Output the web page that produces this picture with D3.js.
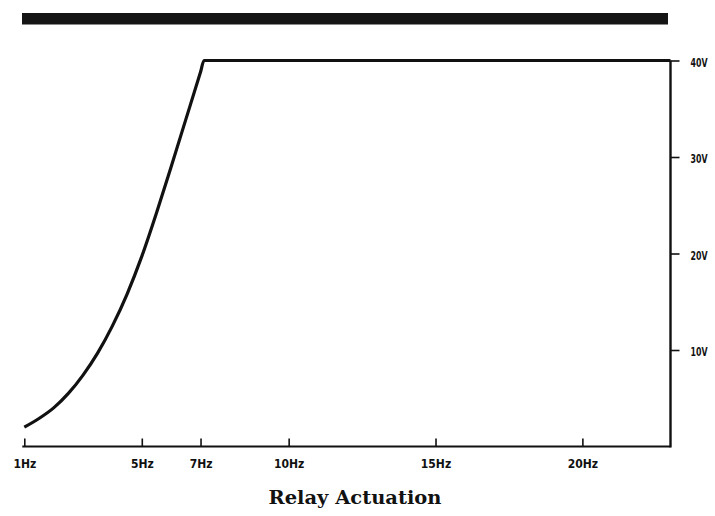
<!DOCTYPE html>
<html>
<head>
<meta charset="utf-8">
<script src="https://cdn.jsdelivr.net/npm/d3@7"></script>
<style>
  html, body { margin: 0; padding: 0; background: #fff; }
  svg { display: block; }
</style>
</head>
<body>
<svg id="chart" width="715" height="516"></svg>
<script>
// ---- Data ----
const freqHz   = [1, 1.5, 2, 2.5, 3, 3.5, 4, 4.5, 5, 5.5, 6, 6.5, 7.0, 7.12, 23];
const voltage  = [2.0, 2.9, 4.0, 5.5, 7.4, 9.7, 12.5, 15.8, 19.7, 24.2, 29.0, 33.9, 38.8, 40, 40];
const xTicks   = [1, 5, 7, 10, 15, 20];
const xTickLabels = ["1Hz", "5Hz", "7Hz", "10Hz", "15Hz", "20Hz"];
const yTicks   = [10, 20, 30, 40];
const yTickLabels = ["10V", "20V", "30V", "40V"];
const title    = "Relay Actuation";

// ---- Layout ----
const svg = d3.select("#chart");
const x = d3.scaleLinear().domain([1, 23]).range([24.3, 670.5]);
const y = d3.scaleLinear().domain([0, 40]).range([446.5, 60.5]);

const labelFont = "'DejaVu Sans Condensed', 'Liberation Sans Narrow', 'DejaVu Sans', sans-serif";

// decorative dark band at the top
svg.append("rect")
  .attr("x", 22).attr("y", 13)
  .attr("width", 646).attr("height", 11.5)
  .attr("fill", "#151515");

// bottom axis
const xAxis = d3.axisBottom(x)
  .tickValues(xTicks)
  .tickFormat((d, i) => xTickLabels[i])
  .tickSizeInner(-8)
  .tickSizeOuter(0)
  .tickPadding(13);
const gx = svg.append("g")
  .attr("transform", `translate(0,${y(0)})`)
  .call(xAxis);
gx.select(".domain").attr("stroke", "#111").attr("stroke-width", 1.8)
  .attr("d", `M${x(1) - 2},0H${x(23)}`);
gx.selectAll(".tick line").attr("stroke", "#111").attr("stroke-width", 1.6);
gx.selectAll(".tick text")
  .attr("font-family", labelFont)
  .attr("font-size", 12)
  .attr("font-weight", "bold")
  .attr("fill", "#111");

// right axis
const yAxis = d3.axisRight(y)
  .tickValues(yTicks)
  .tickFormat((d, i) => yTickLabels[i])
  .tickSizeInner(9)
  .tickSizeOuter(0)
  .tickPadding(11);
const gy = svg.append("g")
  .attr("transform", `translate(${x(23)},0)`)
  .call(yAxis);
gy.select(".domain").attr("stroke", "#111").attr("stroke-width", 2.4)
  .attr("d", `M0,${y(40)}V${y(0) + 1}`);
gy.selectAll(".tick line").attr("stroke", "#111").attr("stroke-width", 1.6);
gy.selectAll(".tick text")
  .attr("font-family", labelFont)
  .attr("font-size", 12.5)
  .attr("font-weight", "bold")
  .attr("dy", "0.45em")
  .attr("textLength", 17)
  .attr("lengthAdjust", "spacingAndGlyphs")
  .attr("fill", "#111");

// curve
const line = d3.line()
  .x((d, i) => x(freqHz[i]))
  .y((d, i) => y(voltage[i]))
  .curve(d3.curveMonotoneX);
svg.append("path")
  .datum(voltage)
  .attr("d", line)
  .attr("fill", "none")
  .attr("stroke", "#111")
  .attr("stroke-width", 3.2)
  .attr("stroke-linejoin", "round");

// title
svg.append("text")
  .attr("x", 355).attr("y", 504)
  .attr("text-anchor", "middle")
  .attr("font-family", "'DejaVu Serif', 'Liberation Serif', serif")
  .attr("font-size", 18)
  .attr("font-weight", "bold")
  .attr("textLength", 173)
  .attr("lengthAdjust", "spacingAndGlyphs")
  .attr("fill", "#111")
  .text(title);
</script>
</body>
</html>
